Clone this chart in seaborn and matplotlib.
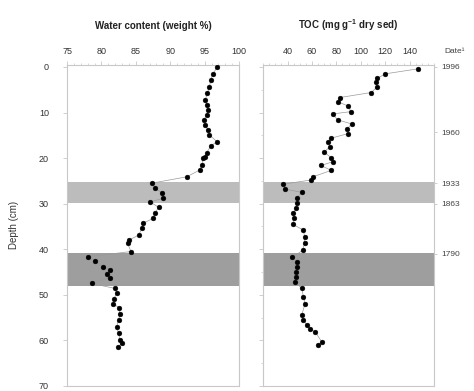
import numpy as np
import pandas as pd
import matplotlib
matplotlib.use("Agg")
import matplotlib.pyplot as plt
import seaborn as sns
from matplotlib.ticker import MultipleLocator

sns.set_theme(style="white")
plt.rcParams['font.family'] = ['Liberation Sans', 'DejaVu Sans']
plt.rcParams['mathtext.default'] = 'regular'

# Water content profile (depth cm, weight %)
wc_depth = [0.1, 1.5, 2.9, 4.3, 5.8, 7.2, 8.3, 9.4, 10.5, 11.6, 12.7, 13.8, 14.9, 16.4,
            17.3, 18.8, 19.8, 20.0, 21.5, 22.6, 24.1, 25.5, 26.6, 27.6, 28.8, 29.6,
            30.8, 32.0, 33.2, 34.3, 35.4, 36.9, 38.0, 38.7, 40.5, 41.6, 42.6, 43.8,
            44.5, 45.5, 46.2, 47.5, 48.6, 49.7, 50.9, 51.9, 52.8, 54.1, 55.5, 57.0,
            58.4, 59.9, 60.6, 61.4]
wc_value = [96.8, 96.2, 95.9, 95.7, 95.4, 95.1, 95.3, 95.5, 95.3, 94.9, 95.1, 95.5, 95.7, 96.8,
            95.9, 95.3, 95.1, 94.8, 94.6, 94.3, 92.4, 87.3, 87.8, 88.8, 89.0, 87.1,
            88.3, 87.8, 87.5, 86.1, 85.9, 85.4, 84.0, 83.8, 84.3, 78.1, 79.1, 80.2,
            81.3, 80.8, 81.2, 78.6, 82.0, 82.2, 81.8, 81.7, 82.5, 82.7, 82.5, 82.2,
            82.5, 82.7, 83.0, 82.4]

# TOC profile (depth cm, mg g-1 dry sed)
toc_depth = [0.4, 1.5, 2.5, 3.4, 4.3, 5.6, 6.7, 7.6, 8.6, 9.8, 10.3, 11.6, 12.5, 13.5,
             14.6, 15.6, 16.4, 17.5, 18.6, 20.0, 20.8, 21.6, 22.7, 24.1, 24.8, 25.7,
             26.8, 27.5, 28.7, 29.9, 31.0, 32.1, 33.2, 34.5, 35.8, 37.2, 38.6, 40.2,
             41.8, 42.7, 43.8, 44.9, 46.0, 47.1, 48.6, 50.4, 51.9, 54.4, 55.5, 56.6,
             57.5, 58.1, 60.3, 60.9]
toc_value = [147.0, 120.0, 113.6, 112.5, 113.6, 108.5, 83.0, 81.0, 89.9, 91.8, 77.0, 81.0, 92.6, 89.0,
             89.9, 76.0, 73.5, 75.0, 70.0, 76.0, 77.0, 67.5, 75.7, 60.7, 59.3, 36.6,
             38.0, 51.7, 47.6, 48.1, 47.0, 44.8, 45.6, 44.3, 53.0, 54.0, 54.0, 52.5,
             44.0, 47.6, 48.1, 47.0, 47.0, 46.2, 51.7, 53.0, 54.4, 51.7, 53.0, 55.8,
             58.5, 62.6, 68.0, 65.3]

# Shaded intervals (depth cm)
band_light = (25.2, 29.9)
band_dark = (40.8, 48.1)

# Date labels on the right
date_depth = [0, 14.3, 25.5, 30, 41]
date_label = ['1996', '1960', '1933', '1863', '1790']

wc_df = pd.DataFrame({'depth': wc_depth, 'value': wc_value})
toc_df = pd.DataFrame({'depth': toc_depth, 'value': toc_value})

fig = plt.figure(figsize=(4.74, 3.91), dpi=100)
ax1 = fig.add_axes([0.1414, 0.0128, 0.3629, 0.8217])
ax2 = fig.add_axes([0.555, 0.0128, 0.3608, 0.8217])

spine_c = '#c8c8c8'
for ax, df, xlim, xticks, title, minor in [
        (ax1, wc_df, (75, 100), [75, 80, 85, 90, 95, 100], 'Water content (weight %)', 1),
        (ax2, toc_df, (20, 160), [40, 60, 80, 100, 120, 140], r'TOC (mg g$^{-1}$ dry sed)', 5)]:
    ax.axhspan(*band_light, color='#bcbcbc', lw=0, zorder=0)
    ax.axhspan(*band_dark, color='#9e9e9e', lw=0, zorder=0)
    ax.plot(df['value'], df['depth'], color='#9a9a9a', lw=0.5, zorder=2)
    sns.scatterplot(data=df, x='value', y='depth', ax=ax, color='black', s=12,
                    edgecolor='black', linewidth=0.3, zorder=3)
    ax.set_xlim(*xlim)
    ax.set_ylim(70, -0.5)
    ax.set_xticks(xticks)
    ax.xaxis.set_minor_locator(MultipleLocator(minor))
    ax.yaxis.set_major_locator(MultipleLocator(10))
    ax.yaxis.set_minor_locator(MultipleLocator(5))
    ax.xaxis.tick_top()
    ax.xaxis.set_label_position('top')
    ax.set_xlabel('')
    ax.set_ylabel('')
    ax.tick_params(axis='both', which='both', direction='out', color=spine_c,
                   labelsize=6.5, labelcolor='#333333')
    ax.tick_params(axis='both', which='major', length=3, width=0.6)
    ax.tick_params(axis='both', which='minor', length=1.5, width=0.5)
    ax.tick_params(axis='x', pad=3)
    for sp in ax.spines.values():
        sp.set_color(spine_c)
        sp.set_linewidth(0.8)
    ax.set_title(title, fontsize=7, fontweight='bold', pad=26, color='#222222')

ax1.tick_params(axis='y', pad=10, left=True)
ax1.set_ylabel('Depth (cm)', fontsize=7, color='#333333', labelpad=14)
ax2.tick_params(axis='y', left=True, labelleft=False)

axr = ax2.twinx()
axr.set_ylim(ax2.get_ylim())
axr.set_yticks(date_depth)
axr.set_yticklabels(date_label)
axr.tick_params(axis='y', length=2.5, width=0.6, color=spine_c, labelsize=6,
                labelcolor='#444444', pad=3)
for sp in axr.spines.values():
    sp.set_visible(False)
axr.text(1.06, 1.03, 'Date\u00b9', transform=axr.transAxes, fontsize=6,
         color='#444444', ha='left', va='bottom')

fig.savefig('out.png', dpi=100)
